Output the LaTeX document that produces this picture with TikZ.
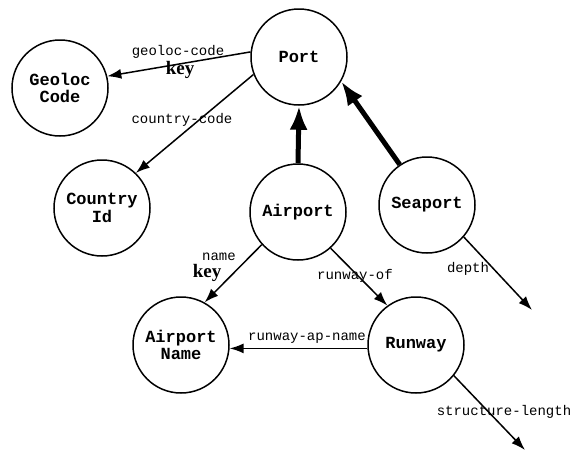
\documentclass[tikz,border=0pt]{standalone}
\usepackage{fontspec}
\setmainfont{Liberation Serif}
\setmonofont{Liberation Mono}
\usetikzlibrary{arrows.meta}
\tikzset{
  ent/.style={circle, draw, line width=1.5pt, minimum size=96pt, inner sep=0pt, align=center,
    font=\fontsize{17}{17.5}\selectfont\ttfamily\bfseries},
  rel/.style={line width=1.5pt, -{Latex[length=14pt,width=10pt]}},
  isa/.style={line width=5pt, -{Latex[length=24pt,width=18pt]}},
  lbl/.style={inner sep=0pt, font=\fontsize{14}{14}\selectfont\ttfamily},
  keylbl/.style={inner sep=0pt, font=\fontsize{19}{19}\selectfont\bfseries},
}
\begin{document}
\begin{tikzpicture}[x=1pt,y=-1pt]
\useasboundingbox (0,0) rectangle (573,451);
\node[ent] (port) at (299,57) {Port};
\node[ent] (geo) at (60,88) {Geoloc\\Code};
\node[ent] (country) at (102,208) {Country\\Id};
\node[ent] (airport) at (298,212) {Airport};
\node[ent] (seaport) at (427,205) {Seaport};
\node[ent] (apname) at (181,345) {Airport\\Name};
\node[ent] (runway) at (416,345) {Runway};
\coordinate (depthend) at (532,310);
\coordinate (slend) at (525,450);

\draw[rel] (port.174) -- (geo.14);
\draw[rel] (port.201) -- (country.46);
\draw[isa] (airport.north) -- (port.south);
\draw[isa] (seaport.124) -- (port.330);
\draw[rel] (airport.222) -- (apname.61);
\draw[rel] (airport.312) -- (runway.126);
\draw[rel] (runway.184) -- (apname.356);
\draw[rel] (seaport.319) -- (depthend);
\draw[rel] (runway.321) -- (slend);

\node[lbl] (l1) at (178,52) {geoloc-code};
\node[keylbl] (k1) at (180,70) {key};
\node[lbl] (l2) at (182,120) {country-code};
\node[lbl] (l3) at (219,257) {name};
\node[keylbl] (k2) at (207,273) {key};
\node[lbl] (l4) at (355,276) {runway-of};
\node[lbl] (l5) at (307,338) {runway-ap-name};
\node[lbl] (l6) at (468,269) {depth};
\node[lbl] (l7) at (504,412) {structure-length};
\end{tikzpicture}
\end{document}
